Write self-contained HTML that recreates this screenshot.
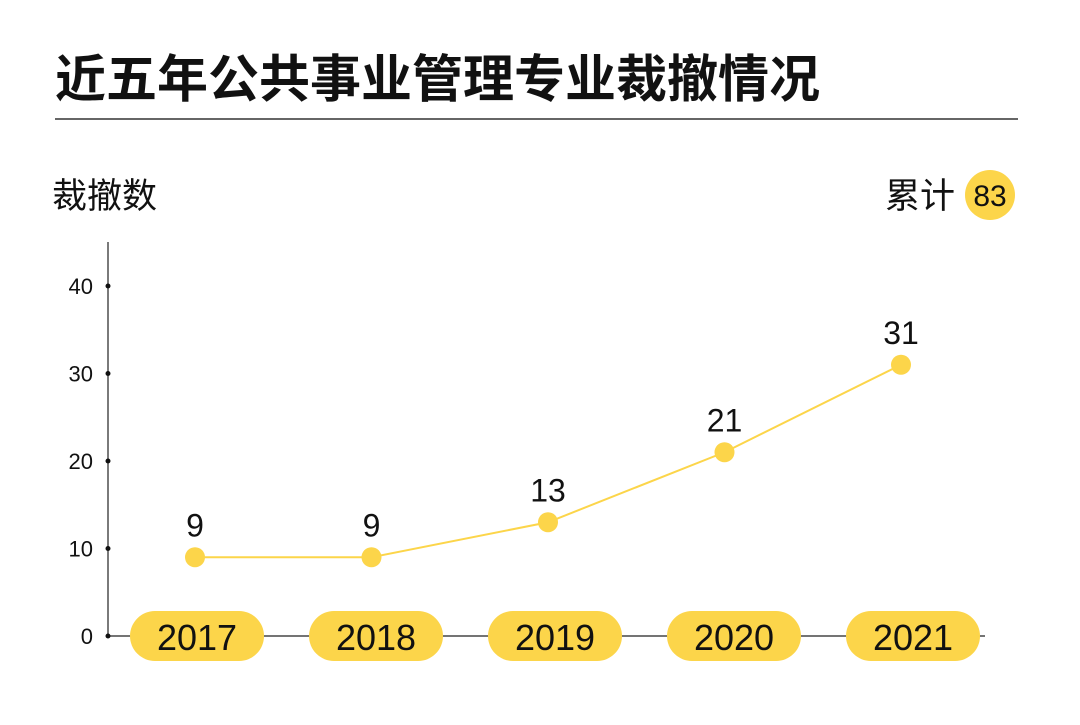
<!DOCTYPE html>
<html><head><meta charset="utf-8">
<style>
body{margin:0;background:#fff;width:1080px;height:720px;overflow:hidden;font-family:"Liberation Sans","Noto Sans CJK SC",sans-serif;}
</style></head>
<body>
<svg width="1080" height="720" xmlns="http://www.w3.org/2000/svg">
<text x="55" y="97" font-size="51" font-weight="bold" fill="#111" font-family="Liberation Sans, Noto Sans CJK SC, sans-serif">近五年公共事业管理专业裁撤情况</text>
<line x1="55" y1="119" x2="1018" y2="119" stroke="#333" stroke-width="1.5"/>
<text x="52" y="208" font-size="35" fill="#111" font-family="Liberation Sans, Noto Sans CJK SC, sans-serif">裁撤数</text>
<text x="885" y="208" font-size="35" fill="#111" font-family="Liberation Sans, Noto Sans CJK SC, sans-serif">累计</text>
<circle cx="990" cy="195" r="25" fill="#fcd54a"/>
<text x="990" y="206" font-size="30" text-anchor="middle" fill="#111">83</text>
<g id="plot"></g>
</svg>
<script>
const years = ['2017','2018','2019','2020','2021'];
const values = [9, 9, 13, 21, 31];
const yTicks = [0, 10, 20, 30, 40];
const total = '83';

const NS = 'http://www.w3.org/2000/svg';
const g = document.getElementById('plot');
const y0 = 636, pxPerUnit = 8.75;
const yScale = v => y0 - v * pxPerUnit;
const xScale = i => 195 + i * 176.5;
const pillX = i => 197 + i * 179;
function mk(tag, attrs){const e=document.createElementNS(NS,tag);for(const k in attrs)e.setAttribute(k,attrs[k]);g.appendChild(e);return e;}

let e = mk('line',{x1:108,y1:242,x2:108,y2:636,stroke:'#222','stroke-width':1.2});


e = mk('line',{x1:108,y1:636,x2:985,y2:636,stroke:'#222','stroke-width':1.2});



yTicks.forEach(t=>{
  const y=yScale(t);
  let d=mk('circle',{cx:108,cy:y,r:2.5,fill:'#111'});
  
  
  let tx=mk('text',{x:93,y:y+8,'font-size':22,'text-anchor':'end',fill:'#111'});
  tx.textContent=t;
  
  
});

years.forEach((yr,i)=>{
  const cx=pillX(i);
  let r=mk('rect',{x:cx-67,y:611,width:134,height:50,rx:25,fill:'#fcd54a'});
  
  
  let t=mk('text',{x:cx,y:650,'font-size':36,'text-anchor':'middle',fill:'#111'});
  t.textContent=yr;
  
  
});

const pts=values.map((v,i)=>xScale(i)+','+yScale(v)).join(' ');
e=mk('polyline',{points:pts,fill:'none',stroke:'#fcd54a','stroke-width':2});



values.forEach((v,i)=>{
  let c=mk('circle',{cx:xScale(i),cy:yScale(v),r:10,fill:'#fcd54a'});
  
  
  let t=mk('text',{x:xScale(i),y:yScale(v)-21,'font-size':32,'text-anchor':'middle',fill:'#111'});
  t.textContent=v;
  
  
});
</script>
</body></html>
